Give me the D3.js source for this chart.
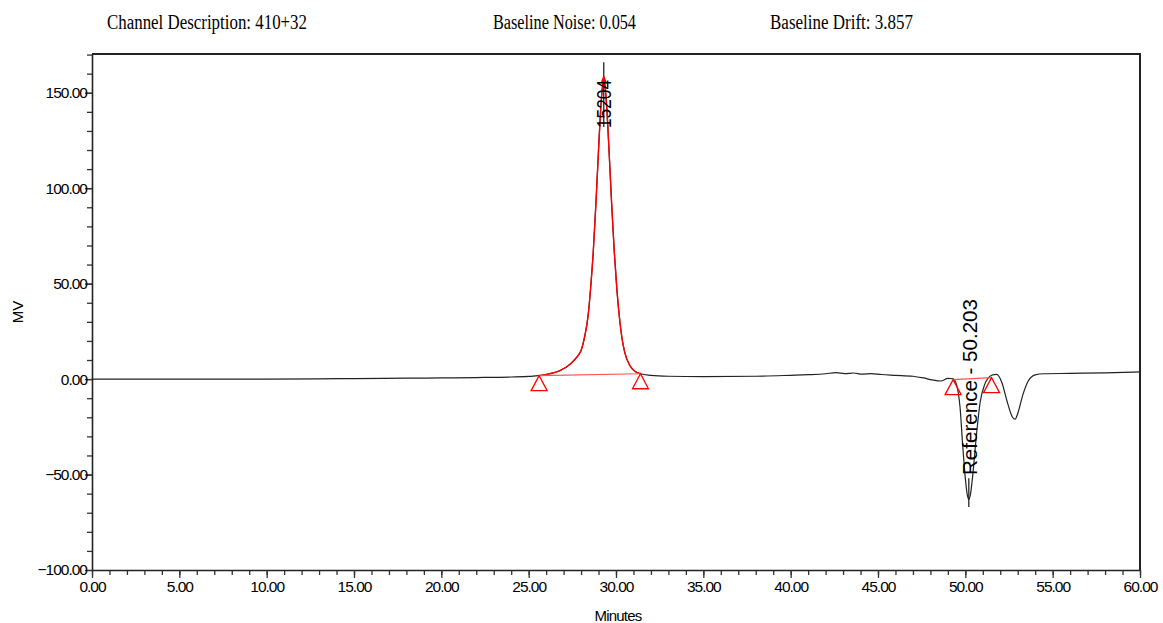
<!DOCTYPE html>
<html>
<head>
<meta charset="utf-8">
<script src="https://cdn.jsdelivr.net/npm/d3@7"></script>
<style>
  body { margin: 0; background: #fff; }
  svg { display: block; }
</style>
</head>
<body>
<div id="chart"></div>
<script>
// header texts
var headerTexts = ["Channel Description:  410+32", "Baseline Noise: 0.054", "Baseline Drift:  3.857"];

// axis ticks
var xMajor = [0, 5, 10, 15, 20, 25, 30, 35, 40, 45, 50, 55, 60];
var yMajor = [-100, -50, 0, 50, 100, 150];

// detector trace, minutes vs MV
var traceT = [0, 5, 10, 13, 15, 18, 20, 22, 24, 25, 25.6, 26.2, 26.8, 27.4, 27.8, 28.0, 28.2, 28.4, 28.55, 28.7, 28.85, 29.0, 29.15, 29.3,
  29.45, 29.6, 29.75, 29.9, 30.05, 30.2, 30.35, 30.5, 30.8, 31.1, 31.4, 32, 33, 35, 38, 40, 41, 42, 42.6, 43.1, 43.6, 44.1, 44.6,
  45.2, 46, 47, 47.6, 48.1, 48.6, 49.0, 49.3, 49.5, 49.7, 49.85, 50.0, 50.1, 50.2, 50.3, 50.45, 50.65, 50.85, 51.1, 51.3, 51.5,
  51.8, 52.1, 52.4, 52.7, 52.85, 53.0, 53.3, 53.6, 54.0, 54.5, 56, 58, 60];
var traceV = [0, 0, 0, 0.1, 0.3, 0.5, 0.6, 0.8, 1.1, 1.4, 1.8, 2.8, 4.5, 8, 12, 15, 22, 33, 48, 67, 92, 120, 145, 158,
  145, 120, 92, 67, 47, 32, 21, 14, 7, 4, 2.8, 2.0, 1.5, 1.3, 1.5, 2.0, 2.3, 2.8, 3.4, 2.9, 3.2, 2.6, 2.9,
  2.4, 2.0, 1.5, 0.6, -0.4, -1.0, 0.4, 0.2, -3, -15, -35, -52, -60, -63, -60, -48, -28, -12, -3, 0.5, 2.0,
  2.5, -2, -12, -20, -21, -18, -8, -1, 2.2, 2.8, 3.0, 3.3, 3.8];

// integrated peaks: start/end (min, MV) and apex
var peakStart = [25.6, 1.8], peakEnd = [31.4, 2.8], peakApex = [29.3, 158];
var refStart = [49.3, -0.3], refEnd = [51.5, 0.8], refApex = [50.2, -63];
var peakLabels = ["15204", "Reference - 50.203"];

var margin = {top: 54, right: 23, bottom: 53, left: 92},
    width = 1163 - margin.left - margin.right,
    height = 623 - margin.top - margin.bottom;

var svg = d3.select("#chart")
  .append("svg")
    .attr("width", 1163)
    .attr("height", 623);

// header line
var hx = [107, 493, 770], hw = [200, 143, 143];
headerTexts.forEach(function(t, i) {
  svg.append("text")
    .attr("x", hx[i])
    .attr("y", 29)
    .attr("textLength", hw[i])
    .attr("lengthAdjust", "spacingAndGlyphs")
    .style("font-family", "Liberation Serif")
    .style("font-size", "20px")
    .text(t);
});

var g = svg.append("g")
    .attr("transform", "translate(" + margin.left + "," + margin.top + ")");

var x = d3.scaleLinear().domain([0, 60]).range([0, width]);
var y = d3.scaleLinear().domain([-100, 170.3]).range([height, 0]);

// frame (top and right)
g.append("path")
  .attr("d", "M0,0H" + width + "V" + height)
  .attr("fill", "none")
  .attr("stroke", "#222")
  .attr("stroke-width", 2);

// minor ticks
g.append("g")
  .call(d3.axisLeft(y).tickValues(d3.range(-100, 171, 10)).tickSize(5).tickFormat(""))
  .call(function(s) { s.select(".domain").remove(); });
g.append("g")
  .attr("transform", "translate(0," + height + ")")
  .call(d3.axisBottom(x).tickValues(d3.range(0, 61, 1)).tickSize(5).tickFormat(""))
  .call(function(s) { s.select(".domain").remove(); });

// major axes
var yAxis = g.append("g")
  .call(d3.axisLeft(y).tickValues(yMajor).tickSize(7).tickSizeOuter(0).tickFormat(d3.format(".2f")));
var xAxis = g.append("g")
  .attr("transform", "translate(0," + height + ")")
  .call(d3.axisBottom(x).tickValues(xMajor).tickSize(8).tickSizeOuter(0).tickFormat(d3.format(".2f")));

g.selectAll(".tick line").attr("stroke", "#333").attr("stroke-width", 1.3);
g.selectAll(".domain").attr("stroke", "#222").attr("stroke-width", 1.6);
g.selectAll(".tick text")
  .style("font-family", "Liberation Sans")
  .style("font-size", "15.5px")
  .style("letter-spacing", "-1px")
  .attr("fill", "#000");
yAxis.selectAll(".tick text").attr("x", -5);
xAxis.selectAll(".tick text").attr("y", 11);

// axis titles
svg.append("text")
  .attr("transform", "translate(23,312) rotate(-90)")
  .attr("text-anchor", "middle")
  .style("font-family", "Liberation Sans")
  .style("font-size", "15px")
  .text("MV");
svg.append("text")
  .attr("x", 618)
  .attr("y", 621)
  .attr("text-anchor", "middle")
  .style("font-family", "Liberation Sans")
  .style("font-size", "15px")
  .style("letter-spacing", "-0.8px")
  .text("Minutes");

var trace = traceT.map(function(t, i) { return [t, traceV[i]]; });
var line = d3.line()
  .x(function(d) { return x(d[0]); })
  .y(function(d) { return y(d[1]); })
  .curve(d3.curveMonotoneX);

// black trace
g.append("path")
  .datum(trace)
  .attr("fill", "none")
  .attr("stroke", "#222")
  .attr("stroke-width", 1.2)
  .attr("d", line);

// integrated peak in red
g.append("path")
  .datum(trace.filter(function(d) { return d[0] >= peakStart[0] && d[0] <= peakEnd[0]; }))
  .attr("fill", "none")
  .attr("stroke", "#ff0000")
  .attr("stroke-width", 1.4)
  .attr("d", line);

// drawn baselines
[[peakStart, peakEnd], [refStart, refEnd]].forEach(function(p) {
  g.append("line")
    .attr("x1", x(p[0][0])).attr("y1", y(p[0][1]))
    .attr("x2", x(p[1][0])).attr("y2", y(p[1][1]))
    .attr("stroke", "#ff5050")
    .attr("stroke-width", 1.2);
});

// start/end markers
[peakStart, peakEnd, refStart, refEnd].forEach(function(p) {
  var px = x(p[0]), py = y(p[1]);
  g.append("path")
    .attr("d", "M" + px + "," + py + "L" + (px - 8) + "," + (py + 15) + "L" + (px + 8) + "," + (py + 15) + "Z")
    .attr("fill", "none")
    .attr("stroke", "#ff0000")
    .attr("stroke-width", 1.3);
});

// apex drop lines
g.append("line")
  .attr("x1", x(peakApex[0])).attr("x2", x(peakApex[0]))
  .attr("y1", y(166)).attr("y2", y(132))
  .attr("stroke", "#111").attr("stroke-width", 1.2);
g.append("path")
  .attr("d", "M" + x(peakApex[0]) + "," + (y(peakApex[1]) - 3) + "l-3,8h6Z")
  .attr("fill", "#ff0000");
g.append("line")
  .attr("x1", x(refApex[0])).attr("x2", x(refApex[0]))
  .attr("y1", y(-52)).attr("y2", y(-67))
  .attr("stroke", "#111").attr("stroke-width", 1.2);

// peak labels
g.append("text")
  .attr("transform", "translate(" + x(peakApex[0]) + "," + (128 - margin.top) + ") rotate(-90)")
  .attr("dominant-baseline", "central")
  .attr("textLength", 48)
  .attr("lengthAdjust", "spacingAndGlyphs")
  .style("font-family", "Liberation Sans")
  .style("font-size", "20px")
  .text(peakLabels[0]);
g.append("text")
  .attr("transform", "translate(" + (x(refApex[0]) + 1) + "," + (475 - margin.top) + ") rotate(-90)")
  .attr("dominant-baseline", "central")
  .attr("textLength", 176)
  .attr("lengthAdjust", "spacingAndGlyphs")
  .style("font-family", "Liberation Sans")
  .style("font-size", "20px")
  .text(peakLabels[1]);
</script>
</body>
</html>
